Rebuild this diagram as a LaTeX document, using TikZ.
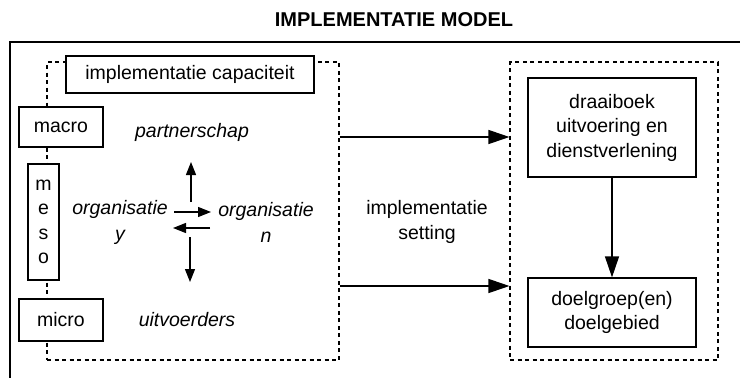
\documentclass[tikz,border=0pt]{standalone}
\usepackage{fontspec}
\setmainfont{Liberation Sans}
\usetikzlibrary{arrows.meta}

\tikzset{
  frameline/.style={line width=1.3pt},
  solidbox/.style={draw, line width=1.2pt, fill=white, inner sep=0pt, align=center},
  dashbox/.style={draw, line width=1.1pt, dash pattern=on 4pt off 3.5pt, inner sep=0pt},
  label/.style={inner sep=0pt, align=center},
  smallarrow/.style={line width=1.2pt, -{Triangle[length=13pt,width=10pt]}},
  bigarrow/.style={line width=1.2pt, -{Triangle[length=21pt,width=14pt]}},
}

\begin{document}
\begin{tikzpicture}[x=1pt, y=-1pt, font=\fontsize{19.5}{24.5}\selectfont]
  \useasboundingbox (0,0) rectangle (740,378);

  % title and open outer frame
  \node[label, font=\fontsize{20}{24}\selectfont\bfseries] (title) at (394,20) {IMPLEMENTATIE MODEL};
  \draw[frameline] (740,42) -- (10,42) -- (10,378);

  % dashed group boxes
  \node[dashbox, minimum width=292pt, minimum height=298pt] (capgroup) at (193,211) {};
  \node[dashbox, minimum width=208pt, minimum height=298pt] (setgroup) at (614,211) {};

  % left column: levels
  \node[solidbox, minimum width=248pt, minimum height=37pt] (cap) at (190,74.5) {implementatie capaciteit};
  \node[solidbox, minimum width=84pt, minimum height=40pt] (macro) at (61,127) {macro};
  \node[solidbox, minimum width=31pt, minimum height=116pt] (meso) at (43.5,222) {m\\e\\s\\o};
  \node[solidbox, minimum width=84pt, minimum height=42pt] (micro) at (61,320) {micro};

  % italic labels
  \node[label, font=\fontsize{19.5}{26}\selectfont\itshape] (partner) at (192,132) {partnerschap};
  \node[label, font=\fontsize{19.5}{26}\selectfont\itshape] (orgy) at (120,222) {organisatie\\y};
  \node[label, font=\fontsize{19.5}{26}\selectfont\itshape] (orgn) at (266,222) {organisatie\\n};
  \node[label, font=\fontsize{19.5}{26}\selectfont\itshape] (uitv) at (187,320) {uitvoerders};

  % arrows between organisations
  \coordinate (upS) at (191,202);   \coordinate (upE) at (191,162);
  \coordinate (rS) at (174,212);    \coordinate (rE) at (211,212);
  \coordinate (lS) at (210,228);    \coordinate (lE) at (173,228);
  \coordinate (dnS) at (190,237);   \coordinate (dnE) at (190,282);
  \draw[smallarrow] (upS) -- (upE);
  \draw[smallarrow] (rS) -- (rE);
  \draw[smallarrow] (lS) -- (lE);
  \draw[smallarrow] (dnS) -- (dnE);

  % middle label
  \node[label, font=\fontsize{19.5}{25}\selectfont] (setting) at (427,222) {implementatie\\setting};

  % right column
  \node[solidbox, minimum width=168pt, minimum height=99pt, font=\fontsize{19.5}{24.5}\selectfont] (draai) at (612,127.5) {draaiboek\\uitvoering en\\dienstverlening};
  \node[solidbox, minimum width=168pt, minimum height=69pt, font=\fontsize{19.5}{24}\selectfont] (doel) at (612,312.5) {doelgroep(en)\\doelgebied};

  % connectors from the capacity group to the setting group
  \coordinate (topS) at (capgroup.east |- 0,137);
  \coordinate (topE) at (setgroup.west |- 0,137);
  \coordinate (botS) at (capgroup.east |- 0,286);
  \coordinate (botE) at (setgroup.west |- 0,286);
  \draw[bigarrow] (topS) -- (topE);
  \draw[bigarrow] (botS) -- (botE);
  \draw[bigarrow] (draai.south) -- (doel.north);
\end{tikzpicture}
\end{document}
